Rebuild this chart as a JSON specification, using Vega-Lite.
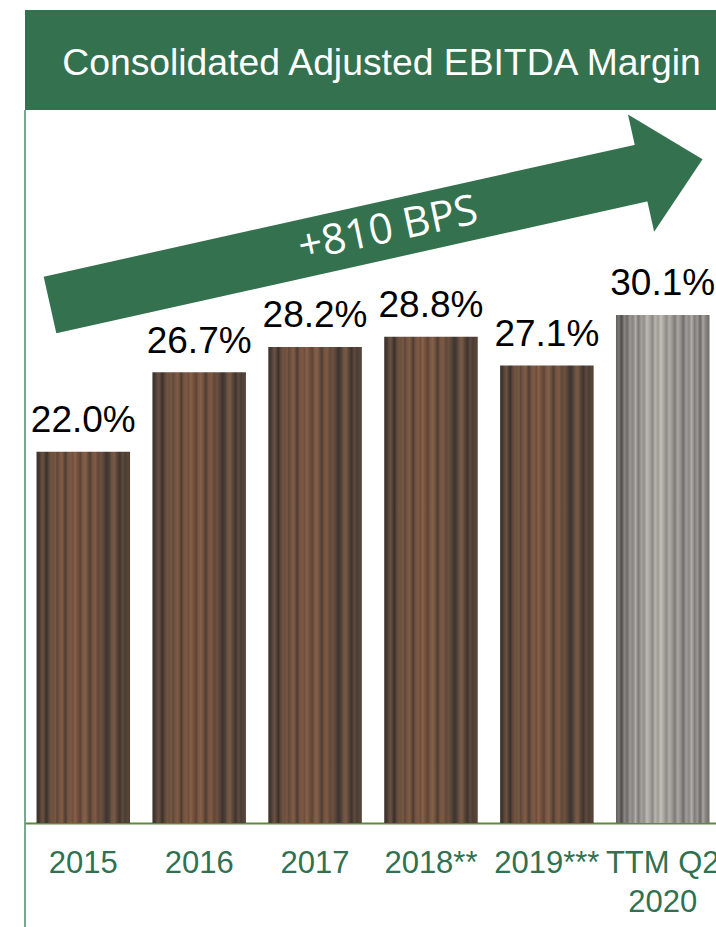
{
  "$schema": "https://vega.github.io/schema/vega-lite/v6.json",
  "width": 696,
  "height": 813,
  "autosize": {"type": "none"},
  "padding": {"left": 25, "top": 10, "right": 0, "bottom": 104},
  "background": "white",
  "config": {"view": {"stroke": null}, "font": "Liberation Sans"},
  "resolve": {"scale": {"x": "independent"}},
  "layer": [
    {
      "data": {"name": "anno", "values": [{"note": "arrow"}]},
      "layer": [
        {
          "mark": {"type": "rule", "color": "#4f8a66", "strokeWidth": 1.5},
          "encoding": {
            "x": {"datum": 0, "type": "quantitative", "scale": {"domain": [0, 6.0054], "nice": false, "zero": false}, "axis": null},
            "y": {"datum": 0.4224, "type": "quantitative", "scale": {"domain": [0, 0.48164], "nice": false, "zero": false}, "axis": null},
            "y2": {"datum": -0.0616}
          }
        },
        {
          "mark": {"type": "rect", "color": "#34714f"},
          "encoding": {
            "x": {"datum": 0, "type": "quantitative", "scale": {"domain": [0, 6.0054], "nice": false, "zero": false}, "axis": null},
            "x2": {"datum": 6.0054},
            "y": {"datum": 0.4224, "type": "quantitative", "scale": {"domain": [0, 0.48164], "nice": false, "zero": false}, "axis": null},
            "y2": {"datum": 0.48164}
          }
        },
        {
          "mark": {"type": "text", "text": "Consolidated Adjusted EBITDA Margin", "font": "Liberation Sans", "fontSize": 37.3, "color": "white", "align": "center", "baseline": "alphabetic"},
          "encoding": {
            "x": {"datum": 3.076, "type": "quantitative", "scale": {"domain": [0, 6.0054], "nice": false, "zero": false}, "axis": null},
            "y": {"datum": 0.4431, "type": "quantitative", "scale": {"domain": [0, 0.48164], "nice": false, "zero": false}, "axis": null}
          }
        },
        {
          "mark": {"type": "rule", "color": "#34714f", "strokeWidth": 58, "strokeCap": "butt"},
          "encoding": {
            "x": {"datum": 0.2157, "type": "quantitative", "scale": {"domain": [0, 6.0054], "nice": false, "zero": false}, "axis": null},
            "y": {"datum": 0.3069, "type": "quantitative", "scale": {"domain": [0, 0.48164], "nice": false, "zero": false}, "axis": null},
            "x2": {"datum": 5.341},
            "y2": {"datum": 0.3854}
          }
        },
        {
          "mark": {"type": "point", "shape": "M-0.05,-1L1,0L-0.05,1Z", "filled": true, "color": "#34714f", "opacity": 1, "size": 14400, "angle": 347.4, "strokeWidth": 0},
          "encoding": {
            "x": {"datum": 5.341, "type": "quantitative", "scale": {"domain": [0, 6.0054], "nice": false, "zero": false}, "axis": null},
            "y": {"datum": 0.3854, "type": "quantitative", "scale": {"domain": [0, 0.48164], "nice": false, "zero": false}, "axis": null}
          }
        },
        {
          "mark": {"type": "text", "text": "+810 BPS", "font": "Open Sans", "fontSize": 42, "color": "white", "align": "center", "baseline": "middle", "angle": 348},
          "encoding": {
            "x": {"datum": 3.132, "type": "quantitative", "scale": {"domain": [0, 6.0054], "nice": false, "zero": false}, "axis": null},
            "y": {"datum": 0.3519, "type": "quantitative", "scale": {"domain": [0, 0.48164], "nice": false, "zero": false}, "axis": null}
          }
        }
      ]
    },
    {
      "data": {
        "values": [
          {"period": "2015", "margin": 0.220},
          {"period": "2016", "margin": 0.267},
          {"period": "2017", "margin": 0.282},
          {"period": "2018**", "margin": 0.288},
          {"period": "2019***", "margin": 0.271},
          {"period": "TTM Q2 2020", "margin": 0.301}
        ]
      },
      "encoding": {
        "x": {
          "field": "period",
          "type": "nominal",
          "sort": null,
          "scale": {"domain": ["2015", "2016", "2017", "2018**", "2019***", "TTM Q2 2020"], "paddingInner": 0.193, "paddingOuter": 0.0992},
          "axis": {
            "title": null,
            "labelFont": "Liberation Sans",
            "labelFontSize": 31,
            "labelColor": "#2f7150",
            "labelAngle": 0,
            "ticks": false,
            "tickSize": 0,
            "labelPadding": 25,
            "labelBaseline": "top",
            "labelLineHeight": 39,
            "labelOverlap": false,
            "labelBound": false,
            "labelLimit": 300,
            "domainColor": "#5f8a3c",
            "domainWidth": 2,
            "grid": false,
            "labelExpr": "datum.value === 'TTM Q2 2020' ? ['TTM Q2', '2020'] : datum.label"
          }
        },
        "y": {"field": "margin", "type": "quantitative", "scale": {"domain": [0, 0.48164], "nice": false, "zero": false}, "axis": null}
      },
      "layer": [
        {
          "transform": [{"filter": "datum.period !== 'TTM Q2 2020'"}],
          "mark": {
            "type": "bar",
            "color": {
              "gradient": "linear", "x1": 0, "y1": 0, "x2": 1, "y2": 0,
              "stops": [
                {"offset": 0, "color": "#4a3d35"},
                {"offset": 0.02, "color": "#3d332e"},
                {"offset": 0.05, "color": "#5c4a3e"},
                {"offset": 0.07, "color": "#6e5040"},
                {"offset": 0.09, "color": "#4f3f35"},
                {"offset": 0.11, "color": "#3a312c"},
                {"offset": 0.13, "color": "#5a463a"},
                {"offset": 0.16, "color": "#75533f"},
                {"offset": 0.18, "color": "#68503f"},
                {"offset": 0.2, "color": "#7b5843"},
                {"offset": 0.22, "color": "#5e4739"},
                {"offset": 0.24, "color": "#6f5242"},
                {"offset": 0.27, "color": "#835c44"},
                {"offset": 0.29, "color": "#6a4d3c"},
                {"offset": 0.31, "color": "#4c3c33"},
                {"offset": 0.33, "color": "#6f5040"},
                {"offset": 0.36, "color": "#7f5a44"},
                {"offset": 0.39, "color": "#6d4f3d"},
                {"offset": 0.41, "color": "#8a6048"},
                {"offset": 0.44, "color": "#744f3b"},
                {"offset": 0.47, "color": "#5b4537"},
                {"offset": 0.49, "color": "#7a5641"},
                {"offset": 0.52, "color": "#85604a"},
                {"offset": 0.55, "color": "#6a4d3c"},
                {"offset": 0.57, "color": "#4e3e34"},
                {"offset": 0.6, "color": "#76543f"},
                {"offset": 0.63, "color": "#7e5a45"},
                {"offset": 0.66, "color": "#5f4739"},
                {"offset": 0.69, "color": "#6d513f"},
                {"offset": 0.72, "color": "#55453b"},
                {"offset": 0.75, "color": "#3e342f"},
                {"offset": 0.78, "color": "#4d4039"},
                {"offset": 0.8, "color": "#6a5142"},
                {"offset": 0.83, "color": "#7a5a46"},
                {"offset": 0.86, "color": "#594539"},
                {"offset": 0.89, "color": "#3f3530"},
                {"offset": 0.92, "color": "#5f4a3d"},
                {"offset": 0.95, "color": "#4a3d35"},
                {"offset": 0.98, "color": "#5a4538"},
                {"offset": 1, "color": "#4d3d34"}
              ]
            }
          }
        },
        {
          "transform": [{"filter": "datum.period === 'TTM Q2 2020'"}],
          "mark": {
            "type": "bar",
            "color": {
              "gradient": "linear", "x1": 0, "y1": 0, "x2": 1, "y2": 0,
              "stops": [
                {"offset": 0, "color": "#5f5d5b"},
                {"offset": 0.03, "color": "#7a7774"},
                {"offset": 0.06, "color": "#4f4d4c"},
                {"offset": 0.09, "color": "#8a8682"},
                {"offset": 0.12, "color": "#6d6a68"},
                {"offset": 0.15, "color": "#9d9994"},
                {"offset": 0.18, "color": "#858280"},
                {"offset": 0.21, "color": "#b1ada8"},
                {"offset": 0.24, "color": "#7c7976"},
                {"offset": 0.27, "color": "#a5a19c"},
                {"offset": 0.3, "color": "#928e8a"},
                {"offset": 0.33, "color": "#bdb9b3"},
                {"offset": 0.36, "color": "#a9a5a0"},
                {"offset": 0.39, "color": "#8b8783"},
                {"offset": 0.42, "color": "#b8b4ae"},
                {"offset": 0.45, "color": "#9e9a95"},
                {"offset": 0.48, "color": "#c4c0ba"},
                {"offset": 0.51, "color": "#a8a49f"},
                {"offset": 0.54, "color": "#8f8b87"},
                {"offset": 0.57, "color": "#b0aca7"},
                {"offset": 0.6, "color": "#9a9691"},
                {"offset": 0.63, "color": "#7d7a77"},
                {"offset": 0.66, "color": "#aaa6a1"},
                {"offset": 0.69, "color": "#94908c"},
                {"offset": 0.72, "color": "#6f6c6a"},
                {"offset": 0.75, "color": "#a19d98"},
                {"offset": 0.78, "color": "#8a8683"},
                {"offset": 0.81, "color": "#b2aea9"},
                {"offset": 0.84, "color": "#7f7c79"},
                {"offset": 0.87, "color": "#9c9894"},
                {"offset": 0.9, "color": "#6a6866"},
                {"offset": 0.93, "color": "#a8a49f"},
                {"offset": 0.96, "color": "#858280"},
                {"offset": 1, "color": "#6e6b69"}
              ]
            }
          }
        },
        {
          "mark": {"type": "text", "font": "Liberation Sans", "fontSize": 37, "color": "#000000", "align": "center", "baseline": "alphabetic", "dy": -19.5},
          "encoding": {"text": {"field": "margin", "type": "quantitative", "format": ".1%"}}
        }
      ]
    }
  ]
}
